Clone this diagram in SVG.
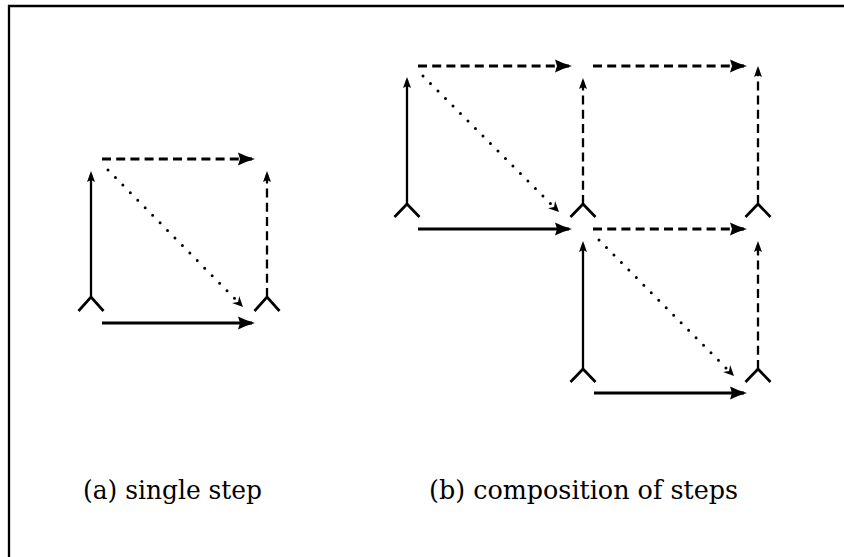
<svg xmlns="http://www.w3.org/2000/svg" width="844" height="557" viewBox="0 0 844 557">
  <style>
    .frame { fill: none; stroke: #000; stroke-width: 2.3; stroke-linejoin: miter; }
    .edge { fill: none; stroke: #000; }
    .h { stroke-width: 2.8; }
    .v { stroke-width: 2.3; }
    .dash { stroke-dasharray: 9 5.2; }
    .dot { stroke-width: 3; stroke-linecap: round; stroke-dasharray: 0 10.6; }
    .node path { fill: none; stroke: #000; stroke-width: 2.7; stroke-linejoin: miter; }
    .label { font-family: "DejaVu Serif", "Liberation Serif", serif; font-size: 26px; fill: #000; }
  </style>
  <defs>
    <!-- large head for horizontal arrows -->
    <marker id="headH" markerUnits="userSpaceOnUse" viewBox="-20 -9 22 18" markerWidth="22" markerHeight="18" refX="-3" refY="0" orient="auto" overflow="visible">
      <path d="M0,0 Q-9,-2.5 -17,-6.5 L-15,0 L-17,6.5 Q-9,2.5 0,0 Z" fill="#000"/>
    </marker>
    <!-- small head for vertical arrows -->
    <marker id="headV" markerUnits="userSpaceOnUse" viewBox="-12 -6 14 12" markerWidth="14" markerHeight="12" refX="-3" refY="0" orient="auto" overflow="visible">
      <path d="M0,0 L-11,-4 L-9,0 L-11,4 Z" fill="#000"/>
    </marker>
    <!-- barbed head for the dotted diagonals -->
    <marker id="headD" markerUnits="userSpaceOnUse" viewBox="-12 -6 14 12" markerWidth="14" markerHeight="12" refX="-3" refY="0" orient="auto" overflow="visible">
      <path d="M0,0 L-10.5,-5 L-7,0 L-10.5,5 Z" fill="#000"/>
    </marker>
  </defs>

  <!-- frame -->
  <path class="frame" d="M9,557 V6 H844"/>

  <!-- nodes -->
  <g id="a-bottom-left" class="node"><path d="M78.5,311 L91,297 L103.5,311"/></g>
  <g id="a-bottom-right" class="node"><path d="M254.5,311 L267,297 L279.5,311"/></g>
  <g id="b-row1-col1" class="node"><path d="M394.5,217 L407,204 L419.5,217"/></g>
  <g id="b-row1-col2" class="node"><path d="M570.5,217 L583,204 L595.5,217"/></g>
  <g id="b-row1-col3" class="node"><path d="M745.5,217 L758,204 L770.5,217"/></g>
  <g id="b-row2-col2" class="node"><path d="M570.5,382 L583,369 L595.5,382"/></g>
  <g id="b-row2-col3" class="node"><path d="M745.5,382 L758,369 L770.5,382"/></g>

  <!-- connectors -->
  <g id="connectors">
    <!-- panel (a) -->
    <path class="edge v" d="M91,297 V174" marker-end="url(#headV)"/>
    <path class="edge v dash" d="M267,297 V174" marker-end="url(#headV)"/>
    <path class="edge h dash" d="M102,159 H252" marker-end="url(#headH)"/>
    <path class="edge h" d="M102,323 H252" marker-end="url(#headH)"/>
    <path class="edge dot" d="M108,170 L240.9,304.9" marker-end="url(#headD)"/>

    <!-- panel (b), upper-left square -->
    <path class="edge v" d="M407,204 V80" marker-end="url(#headV)"/>
    <path class="edge h dash" d="M418,66 H569" marker-end="url(#headH)"/>
    <path class="edge h" d="M418,229 H569" marker-end="url(#headH)"/>
    <path class="edge dot" d="M423,76 L556.9,209.9" marker-end="url(#headD)"/>

    <!-- shared and upper-right edges -->
    <path class="edge v dash" d="M583,204 V81" marker-end="url(#headV)"/>
    <path class="edge v dash" d="M758,204 V69" marker-end="url(#headV)"/>
    <path class="edge h dash" d="M593,66 H744" marker-end="url(#headH)"/>
    <path class="edge h dash" d="M593,229 H744" marker-end="url(#headH)"/>

    <!-- panel (b), lower-right square -->
    <path class="edge v" d="M583,369 V244" marker-end="url(#headV)"/>
    <path class="edge v dash" d="M758,369 V244" marker-end="url(#headV)"/>
    <path class="edge h" d="M594,393 H744" marker-end="url(#headH)"/>
    <path class="edge dot" d="M599,240 L731.9,373.9" marker-end="url(#headD)"/>
  </g>

  <!-- captions -->
  <text class="label" x="83" y="499" textLength="179" lengthAdjust="spacingAndGlyphs">(a) single step</text>
  <text class="label" x="429" y="499" textLength="309" lengthAdjust="spacingAndGlyphs">(b) composition of steps</text>
</svg>
